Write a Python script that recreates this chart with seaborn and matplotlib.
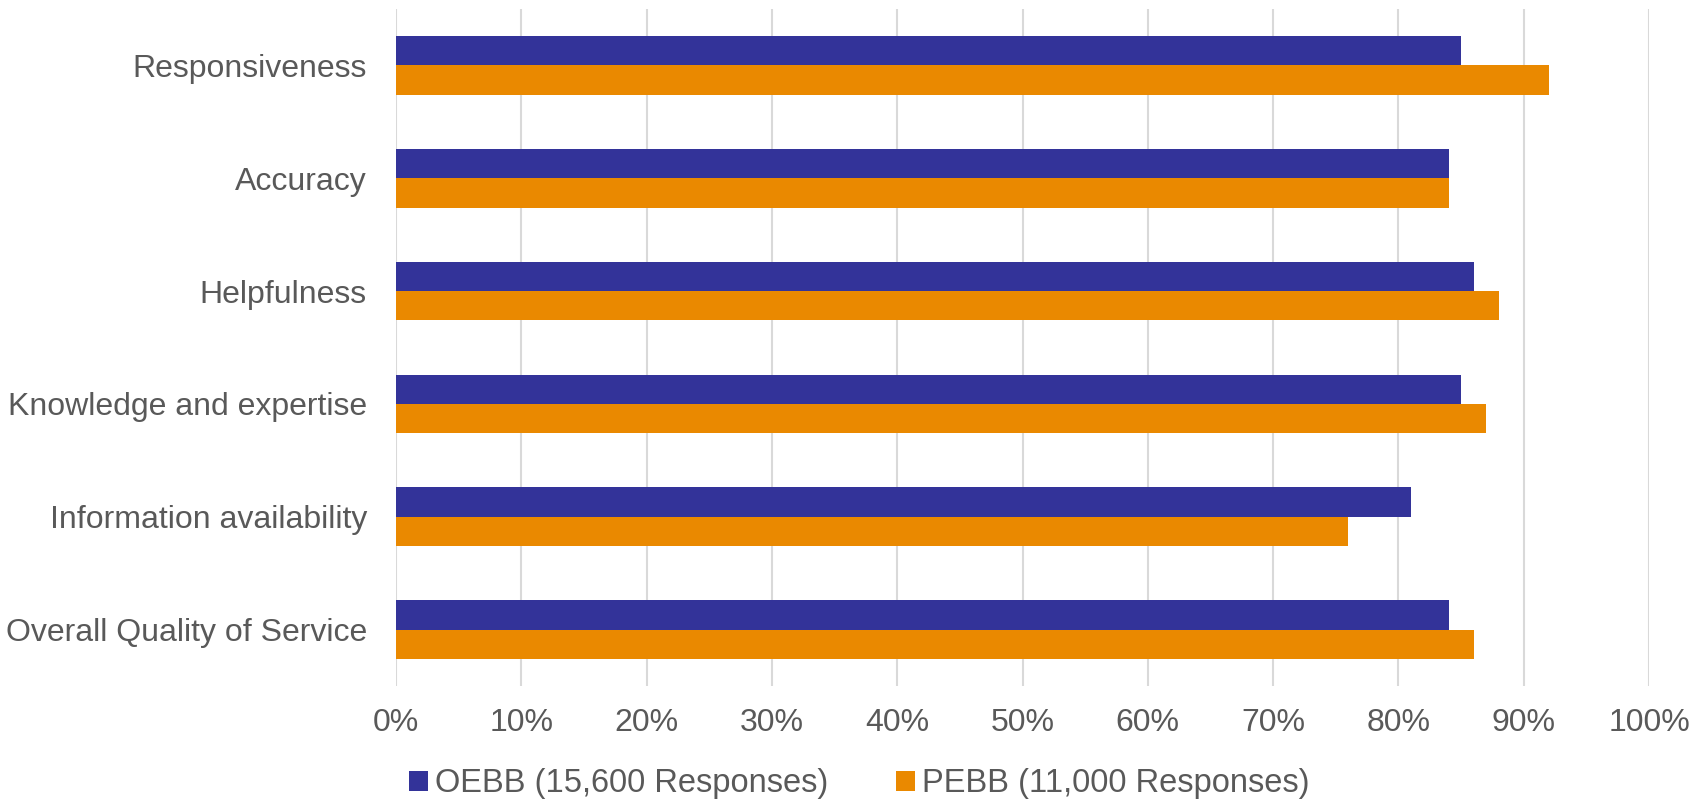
import matplotlib
matplotlib.use("Agg")
import matplotlib.pyplot as plt
import seaborn as sns
import pandas as pd
from matplotlib.ticker import PercentFormatter, MultipleLocator

categories = [
    "Responsiveness",
    "Accuracy",
    "Helpfulness",
    "Knowledge and expertise",
    "Information availability",
    "Overall Quality of Service",
]
oebb_values = [85, 84, 86, 85, 81, 84]
pebb_values = [92, 84, 88, 87, 76, 86]
series_names = ["OEBB (15,600 Responses)", "PEBB (11,000 Responses)"]
series_colors = ["#333399", "#EA8900"]

df = pd.DataFrame({
    "category": categories * 2,
    "value": oebb_values + pebb_values,
    "series": [series_names[0]] * len(categories) + [series_names[1]] * len(categories),
})

sns.set_theme(style="white")
plt.rcParams["font.family"] = ["Liberation Sans", "DejaVu Sans"]
text_color = "#595959"
grid_color = "#D9D9D9"

fig = plt.figure(figsize=(17.05, 8.02), dpi=100)
ax = fig.add_axes([0.2323, 0.1446, 0.9672 - 0.2323, 0.9888 - 0.1446])

sns.barplot(
    data=df, x="value", y="category", hue="series", orient="h",
    order=categories, hue_order=series_names, palette=series_colors,
    width=0.52, saturation=1, ax=ax, legend=True, edgecolor="none",
)

ax.set_xlim(0, 100)
ax.set_ylim(len(categories) - 0.5, -0.5)
ax.xaxis.set_major_locator(MultipleLocator(10))
ax.xaxis.set_major_formatter(PercentFormatter(decimals=0))
ax.grid(axis="x", color=grid_color, linewidth=1.5)
ax.grid(axis="y", visible=False)
ax.set_axisbelow(True)
for s in ax.spines.values():
    s.set_visible(False)
ax.set_xlabel("")
ax.set_ylabel("")
ax.tick_params(axis="y", length=0, pad=21, labelsize=23, labelcolor=text_color)
ax.tick_params(axis="x", length=0, pad=16, labelsize=23, labelcolor=text_color)

handles, labels = ax.get_legend_handles_labels()
ax.get_legend().remove()
fig.legend(
    handles, labels, loc="center", bbox_to_anchor=(0.504, 0.0225), ncol=2,
    frameon=False, fontsize=23.5, labelcolor=text_color,
    handlelength=0.58, handleheight=0.58, handletextpad=0.2, columnspacing=2.1,
)

fig.savefig("out.png", dpi=100, facecolor="white")
